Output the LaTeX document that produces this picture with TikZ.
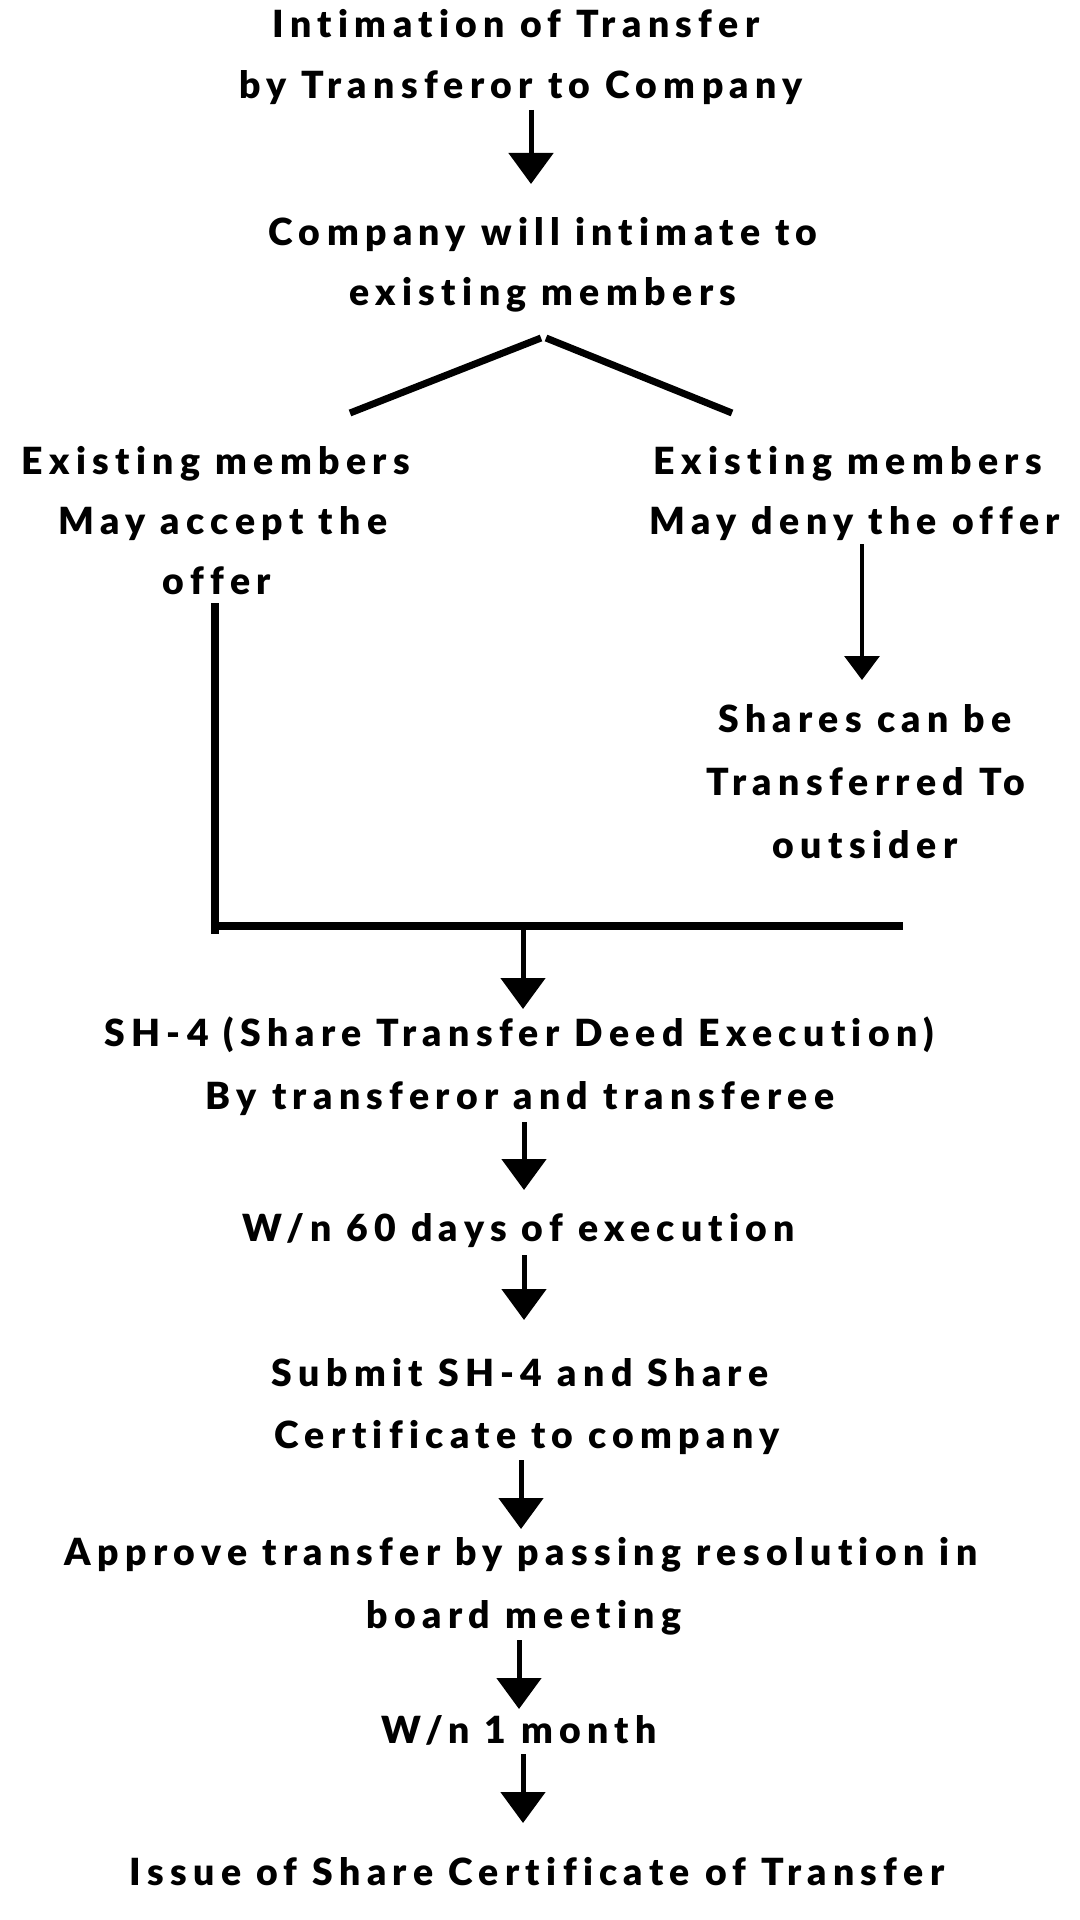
\documentclass[tikz,border=0pt]{standalone}
\usepackage{fontspec}
\setmainfont{Lato Black}[LetterSpace=17,Ligatures={NoCommon,NoRare}]
\usetikzlibrary{arrows.meta}
\begin{document}
\begin{tikzpicture}[x=0.5pt,y=-0.5pt,
  txt/.style={font=\fontsize{18.7}{22}\selectfont, anchor=base, inner sep=0pt},
  bigarrow/.style={line width=2.5pt, -{Triangle[length=15.5pt,width=22pt]}},
  thinarrow/.style={line width=1.6pt, -{Triangle[length=12pt,width=17.5pt]}},
  branch/.style={line width=3.5pt},
  merge/.style={line width=4pt}]
\useasboundingbox (0,0) rectangle (1080,1920);
% texts
\node[txt] (t1a) at (516,38) {Intimation of Transfer};
\node[txt] (t1b) at (521,99) {by Transferor to Company};
\node[txt] (t2a) at (543,246) {Company will intimate to};
\node[txt] (t2b) at (543,306) {existing members};
\node[txt] (l1) at (216,474) {Existing members};
\node[txt] (l2) at (223,534) {May accept the};
\node[txt] (l3) at (217,594) {offer};
\node[txt] (r1) at (848,474) {Existing members};
\node[txt] (r2) at (855,534) {May deny the offer};
\node[txt] (s1) at (865,732) {Shares can be};
\node[txt] (s2) at (866,795) {Transferred To};
\node[txt] (s3) at (865,858) {outsider};
\node[txt] (d1) at (519,1046) {SH-4 (Share Transfer Deed Execution)};
\node[txt] (d2) at (520,1109) {By transferor and transferee};
\node[txt] (w1) at (519,1241) {W/n 60 days of execution};
\node[txt] (sb1) at (520,1386) {Submit SH-4 and Share};
\node[txt] (sb2) at (527,1448) {Certificate to company};
\node[txt] (ap1) at (521,1565) {Approve transfer by passing resolution in};
\node[txt] (ap2) at (524,1628) {board meeting};
\node[txt] (w2) at (519,1743) {W/n 1 month};
\node[txt] (is) at (537,1885) {Issue of Share Certificate of Transfer};
% coordinates
\coordinate (a1s) at (531,110);  \coordinate (a1e) at (531,184);
\coordinate (apxL) at (541,338); \coordinate (apxR) at (546,338);
\coordinate (brL) at (350,413);  \coordinate (brR) at (732,413);
\coordinate (ra1) at (862,544);  \coordinate (ra2) at (862,680);
\coordinate (vt) at (215,603);   \coordinate (vb) at (215,934);
\coordinate (hl) at (213,926);   \coordinate (hr) at (903,926);
\coordinate (m1) at (523,926);   \coordinate (m2) at (523,1009);
\coordinate (a3s) at (524,1122); \coordinate (a3e) at (524,1190);
\coordinate (a4s) at (524,1255); \coordinate (a4e) at (524,1320);
\coordinate (a5s) at (521,1460); \coordinate (a5e) at (521,1529);
\coordinate (a6s) at (519,1640); \coordinate (a6e) at (519,1709);
\coordinate (a7s) at (523,1754); \coordinate (a7e) at (523,1823);
% connectors
\draw[bigarrow] (a1s) -- (a1e);
\draw[branch] (apxL) -- (brL);
\draw[branch] (apxR) -- (brR);
\draw[thinarrow] (ra1) -- (ra2);
\draw[merge] (vt) -- (vb);
\draw[merge] (hl) -- (hr);
\draw[bigarrow] (m1) -- (m2);
\draw[bigarrow] (a3s) -- (a3e);
\draw[bigarrow] (a4s) -- (a4e);
\draw[bigarrow] (a5s) -- (a5e);
\draw[bigarrow] (a6s) -- (a6e);
\draw[bigarrow] (a7s) -- (a7e);
\end{tikzpicture}
\end{document}
